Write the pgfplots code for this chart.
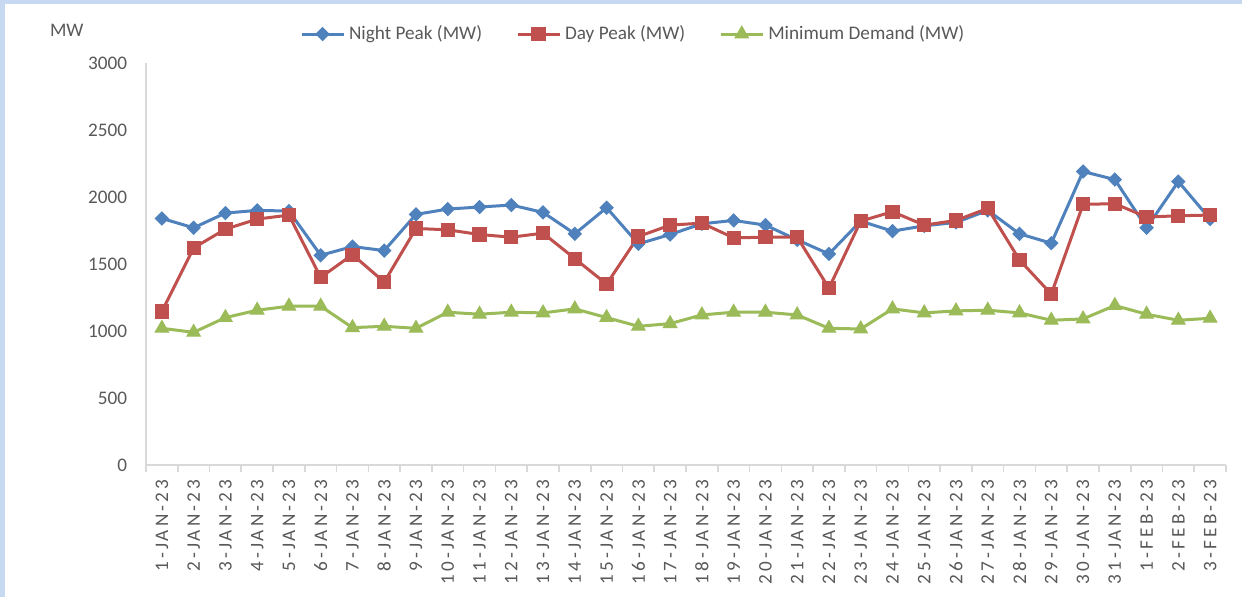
\documentclass[border=0pt]{standalone}
\usepackage{fontspec}
\setmainfont{Carlito}
\newfontfamily\lsfont{Carlito}[LetterSpace=16]
\usepackage{pgfplots}
\pgfplotsset{compat=1.18}
\definecolor{nb}{HTML}{4F81BD}
\definecolor{dr}{HTML}{C0504D}
\definecolor{mg}{HTML}{9BBB59}
\definecolor{tx}{HTML}{595959}
\definecolor{ax}{HTML}{D9D9D9}
\definecolor{bd}{HTML}{C6D9F0}
\pgfplotstableread{
x night day mind
0 1840 1145 1020
1 1770 1620 990
2 1880 1760 1100
3 1900 1835 1155
4 1895 1865 1185
5 1565 1400 1185
6 1630 1570 1025
7 1600 1365 1035
8 1870 1765 1020
9 1910 1755 1140
10 1925 1720 1125
11 1940 1700 1140
12 1885 1730 1135
13 1725 1540 1165
14 1920 1350 1100
15 1650 1705 1035
16 1720 1790 1055
17 1800 1805 1120
18 1825 1695 1140
19 1790 1700 1140
20 1680 1700 1120
21 1575 1320 1020
22 1820 1820 1015
23 1745 1890 1165
24 1785 1790 1135
25 1810 1825 1150
26 1900 1915 1155
27 1725 1530 1135
28 1655 1275 1080
29 2190 1945 1090
30 2130 1950 1190
31 1770 1850 1125
32 2115 1860 1080
33 1835 1865 1095
}\datatable
\begin{document}
\begin{tikzpicture}
\fill[bd] (0,0) rectangle (621pt,298.5pt);
\fill[white] (2.5pt,0) rectangle (621pt,296.3pt);
\useasboundingbox (0,0) rectangle (621pt,298.5pt);
\begin{axis}[
  at={(73pt,66pt)}, anchor=south west,
  scale only axis, width=540pt, height=201pt,
  xmin=-0.5, xmax=33.5, ymin=0, ymax=3000,
  axis lines=left, axis line style={-, ax, line width=0.8pt},
  ytick={0,500,...,3000},
  ytick style={draw=none},
  yticklabel style={inner sep=0pt, xshift=-5pt},
  /pgf/number format/assume math mode=true,
  /pgf/number format/1000 sep={},
  tick label style={font=\fontsize{9.6}{11}\selectfont, text=tx},
  xtick={0,...,33},
  xticklabels={1-JAN-23,2-JAN-23,3-JAN-23,4-JAN-23,5-JAN-23,6-JAN-23,7-JAN-23,8-JAN-23,9-JAN-23,10-JAN-23,11-JAN-23,12-JAN-23,13-JAN-23,14-JAN-23,15-JAN-23,16-JAN-23,17-JAN-23,18-JAN-23,19-JAN-23,20-JAN-23,21-JAN-23,22-JAN-23,23-JAN-23,24-JAN-23,25-JAN-23,26-JAN-23,27-JAN-23,28-JAN-23,29-JAN-23,30-JAN-23,31-JAN-23,1-FEB-23,2-FEB-23,3-FEB-23},
  xticklabel style={rotate=90, anchor=east, inner sep=0pt, xshift=-3pt, font=\lsfont\fontsize{9.6}{11}\selectfont},
  major x tick style={draw=none},
  minor xtick={-0.5,0.5,...,33.5},
  minor tick length=3.5pt,
  tick align=outside,
  minor x tick style={ax, line width=0.8pt},
  legend style={at={(0.452,1.072)}, anchor=center, draw=none, fill=none,
    legend columns=3, font=\fontsize{9.6}{11}\selectfont, text=tx,
    /tikz/every even column/.append style={column sep=15pt}},
  legend cell align=left,
  legend image code/.code={\draw[mark repeat=2,mark phase=2] plot coordinates {(0pt,0pt) (10.5pt,0pt) (21pt,0pt)};},
  clip=false,
]
\addplot[nb, line width=1.5pt, mark=square*, mark size=2.3pt, mark options={rotate=45, fill=nb, draw=nb, line width=0.5pt}] table[x=x, y=night] {\datatable};
\addlegendentry{Night Peak (MW)}
\addplot[dr, line width=1.5pt, mark=square*, mark size=3.3pt, mark options={fill=dr, draw=dr, line width=0.5pt}] table[x=x, y=day] {\datatable};
\addlegendentry{Day Peak (MW)}
\addplot[mg, line width=1.5pt, mark=triangle*, mark size=3.9pt, mark options={fill=mg, draw=mg, line width=0.5pt}] table[x=x, y=mind] {\datatable};
\addlegendentry{Minimum Demand (MW)}
\end{axis}
\node[text=tx, font=\fontsize{9.6}{11}\selectfont, anchor=west] at (21.5pt, 283.5pt) {MW};
\end{tikzpicture}
\end{document}
